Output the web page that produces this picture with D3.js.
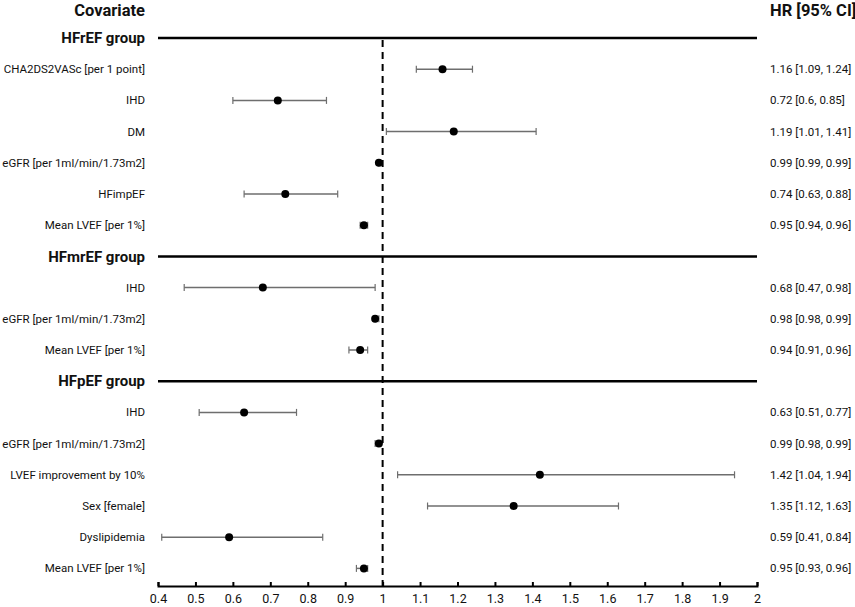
<!DOCTYPE html>
<html>
<head>
<meta charset="utf-8">
<script src="https://cdn.jsdelivr.net/npm/d3@7"></script>
<style>
  body { margin: 0; background: #fff; }
  svg text { font-family: Roboto, "Noto Sans", sans-serif; fill: #111; }
  .lbl { font-size: 11.5px; }
  .grp { font-size: 15px; font-weight: bold; }
  .hdr { font-size: 16.5px; font-weight: bold; }
  .axis .domain { stroke: #000; stroke-width: 2; }
  .axis line { stroke: #000; stroke-width: 2; }
  .axis text { font-size: 12.5px; }
</style>
</head>
<body>
<svg width="855" height="607"></svg>
<script>
// rows in display order, groups are null rows
var groups = ["HFrEF group", "HFmrEF group", "HFpEF group"];
var groupIdx = [0, 7, 11];
var covariates = ["CHA2DS2VASc [per 1 point]", "IHD", "DM", "eGFR [per 1ml/min/1.73m2]", "HFimpEF", "Mean LVEF [per 1%]",
                  "IHD", "eGFR [per 1ml/min/1.73m2]", "Mean LVEF [per 1%]",
                  "IHD", "eGFR [per 1ml/min/1.73m2]", "LVEF improvement by 10%", "Sex [female]", "Dyslipidemia", "Mean LVEF [per 1%]"];
var rowIdx = [1, 2, 3, 4, 5, 6, 8, 9, 10, 12, 13, 14, 15, 16, 17];
var hr = [1.16, 0.72, 1.19, 0.99, 0.74, 0.95, 0.68, 0.98, 0.94, 0.63, 0.99, 1.42, 1.35, 0.59, 0.95];
var lo = [1.09, 0.6, 1.01, 0.99, 0.63, 0.94, 0.47, 0.98, 0.91, 0.51, 0.98, 1.04, 1.12, 0.41, 0.93];
var hi = [1.24, 0.85, 1.41, 0.99, 0.88, 0.96, 0.98, 0.99, 0.96, 0.77, 0.99, 1.94, 1.63, 0.84, 0.96];
var xTicks = [0.4, 0.5, 0.6, 0.7, 0.8, 0.9, 1, 1.1, 1.2, 1.3, 1.4, 1.5, 1.6, 1.7, 1.8, 1.9, 2];

var svg = d3.select("svg");
var x = d3.scaleLinear().domain([0.4, 2]).range([158, 757]);
var y = d3.scaleLinear().domain([0, 17]).range([38, 568.4]);
var axisY = 586;

var rows = covariates.map(function(c, i) {
  return {name: c, row: rowIdx[i], hr: hr[i], lo: lo[i], hi: hi[i]};
});

// headers
svg.append("text").attr("class", "hdr").attr("x", 145).attr("y", 10).attr("dy", "0.35em")
  .attr("text-anchor", "end").text("Covariate");
svg.append("text").attr("class", "hdr").attr("x", 770).attr("y", 10).attr("dy", "0.35em")
  .text("HR [95% CI]");

// group labels + lines
var g = svg.selectAll(".group").data(groups).enter().append("g");
g.append("text").attr("class", "grp").attr("x", 145).attr("y", function(d, i) { return y(groupIdx[i]); })
  .attr("dy", "0.35em").attr("text-anchor", "end").text(function(d) { return d; });
g.append("line").attr("x1", x(0.4)).attr("x2", x(2))
  .attr("y1", function(d, i) { return y(groupIdx[i]); }).attr("y2", function(d, i) { return y(groupIdx[i]); })
  .attr("stroke", "#000").attr("stroke-width", 2.5);

// reference line at 1
svg.append("line").attr("x1", x(1)).attr("x2", x(1)).attr("y1", y(0) + 2).attr("y2", axisY)
  .attr("stroke", "#000").attr("stroke-width", 2).attr("stroke-dasharray", "7,5");

// axis
svg.append("g").attr("class", "axis").attr("transform", "translate(0," + axisY + ")")
  .call(d3.axisBottom(x).tickValues(xTicks).tickSizeInner(-4).tickSizeOuter(-4).tickPadding(8)
    .tickFormat(function(d) { return String(d); }));

// rows
var r = svg.selectAll(".row").data(rows).enter().append("g").attr("class", "row")
  .attr("transform", function(d) { return "translate(0," + y(d.row) + ")"; });

r.append("text").attr("class", "lbl").attr("x", 145).attr("dy", "0.35em").attr("text-anchor", "end")
  .text(function(d) { return d.name; });
r.append("text").attr("class", "lbl").attr("x", 770).attr("dy", "0.35em")
  .text(function(d) { return d.hr + " [" + d.lo + ", " + d.hi + "]"; });

r.append("line").attr("x1", function(d) { return x(d.lo); }).attr("x2", function(d) { return x(d.hi); })
  .attr("stroke", "#6e6e6e").attr("stroke-width", 1.5);
r.append("line").attr("x1", function(d) { return x(d.lo); }).attr("x2", function(d) { return x(d.lo); })
  .attr("y1", -3.5).attr("y2", 3.5).attr("stroke", "#6e6e6e").attr("stroke-width", 1.2);
r.append("line").attr("x1", function(d) { return x(d.hi); }).attr("x2", function(d) { return x(d.hi); })
  .attr("y1", -3.5).attr("y2", 3.5).attr("stroke", "#6e6e6e").attr("stroke-width", 1.2);
r.append("circle").attr("cx", function(d) { return x(d.hr); }).attr("r", 4).attr("fill", "#000");
</script>
</body>
</html>
